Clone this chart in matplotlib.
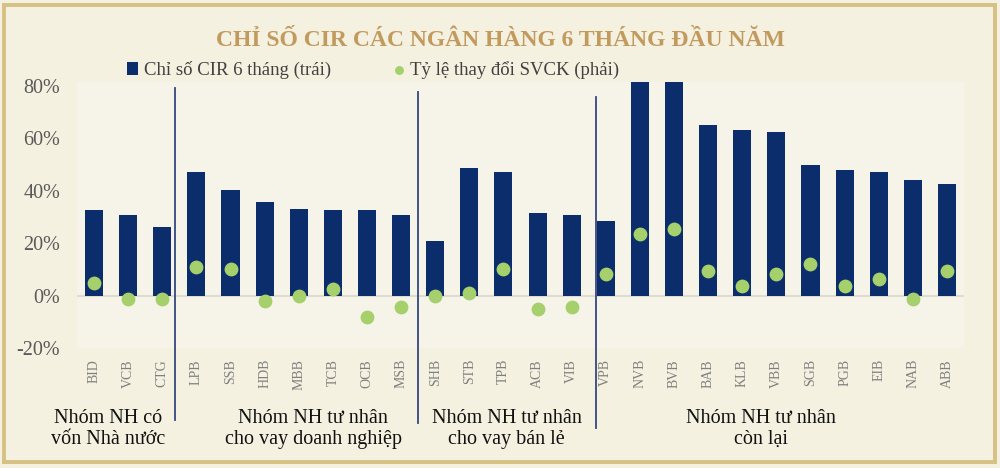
import matplotlib
matplotlib.use("Agg")
import matplotlib.pyplot as plt
from matplotlib.patches import Rectangle
from matplotlib.lines import Line2D
import matplotlib.transforms as mtransforms

plt.rcParams['font.family'] = ['Liberation Serif', 'DejaVu Serif']

banks = ["BID", "VCB", "CTG", "LPB", "SSB", "HDB", "MBB", "TCB", "OCB", "MSB",
         "SHB", "STB", "TPB", "ACB", "VIB", "VPB", "NVB", "BVB", "BAB", "KLB",
         "VBB", "SGB", "PGB", "EIB", "NAB", "ABB"]
cir = [32.7, 30.7, 26.3, 47.3, 40.1, 35.6, 33.2, 32.7, 32.7, 30.7,
       20.9, 48.5, 47.0, 31.7, 30.7, 28.3, 88.0, 88.0, 65.2, 63.1,
       62.4, 49.9, 48.0, 47.3, 44.0, 42.5]
svck = [4.7, -1.3, -1.3, 11.0, 10.1, -2.2, -0.3, 2.7, -8.1, -4.2,
        -0.3, 0.9, 10.1, -5.2, -4.2, 8.2, 23.4, 25.3, 9.2, 3.7,
        8.2, 12.1, 3.7, 6.3, -1.3, 9.2]
yticks = [-20, 0, 20, 40, 60, 80]
groups = ["Nhóm NH có\nvốn Nhà nước",
          "Nhóm NH tư nhân\ncho vay doanh nghiệp",
          "Nhóm NH tư nhân\ncho vay bán lẻ",
          "Nhóm NH tư nhân\ncòn lại"]
group_centers = [0.41, 6.42, 12.1, 19.56]
separators = [2.38, 9.5, 14.72]

title = "CHỈ SỐ CIR CÁC NGÂN HÀNG 6 THÁNG ĐẦU NĂM"
bar_label = "Chỉ số CIR 6 tháng (trái)"
dot_label = "Tỷ lệ thay đổi SVCK (phải)"

BG = "#f4f1e0"
NAVY = "#0b2d6b"
GREEN = "#a5d06c"

fig = plt.figure(figsize=(10, 4.68), dpi=100, facecolor=BG)
fig.patches.append(Rectangle((0.004, 0.013), 0.991, 0.976, transform=fig.transFigure,
                             fill=False, edgecolor="#d6c083", linewidth=2.8, zorder=0))

ax = fig.add_axes([0.077, 1 - 348 / 468, 0.887, 266 / 468])
ax.set_facecolor("#f6f4e9")
x = list(range(len(banks)))
bars = ax.bar(x, cir, width=0.53, color=NAVY, zorder=2, label=bar_label)
ax.set_ylim(-20, 81.5)
ax.set_xlim(-0.5, len(banks) - 0.5)
ax.axhline(0, color="#dedbd0", linewidth=1.5, zorder=1)

ax2 = ax.twinx()
ax2.set_ylim(ax.get_ylim())
sc = ax2.scatter(x, svck, s=80, color=GREEN, zorder=3, label=dot_label)
ax2.set_yticks([])
for a in (ax, ax2):
    for s in a.spines.values():
        s.set_visible(False)

ax.set_yticks(yticks)
ax.set_yticklabels([f"{v}%" for v in yticks])
ax.tick_params(axis='y', length=0, pad=12, labelsize=14.5, labelcolor="#595959")
ax.set_xticks(x)
ax.set_xticklabels(banks, rotation=90, va='top', ha='center')
ax.tick_params(axis='x', length=0, pad=8, labelsize=10, labelcolor="#7f7f7f")

trans = mtransforms.blended_transform_factory(ax.transData, ax.transAxes)
sep_y = [(0.977, -0.271), (0.962, -0.282), (0.944, -0.301)]
for sx, (y0, y1) in zip(separators, sep_y):
    ax.add_line(Line2D([sx, sx], [y0, y1], transform=trans, color="#34487f",
                       linewidth=1.3, clip_on=False, zorder=4))

for gx, g in zip(group_centers, groups):
    ax.text(gx, -0.303, g, transform=trans, ha='center', va='center',
            fontsize=14.5, color="#111111", linespacing=1.15)

fig.text(0.5, 1 - 40 / 468, title, ha='center', va='center', fontsize=17,
         fontweight='bold', color="#c39a5e")

fig.legend(handles=[bars, sc], labels=[bar_label, dot_label], loc='center',
           bbox_to_anchor=(0.373, 1 - 70 / 468), ncol=2, frameon=False,
           fontsize=13.5, labelcolor="#404040", handlelength=0.6, handletextpad=0.3,
           columnspacing=3.3, markerscale=0.6)

fig.savefig("out.png", dpi=100, facecolor=BG)
